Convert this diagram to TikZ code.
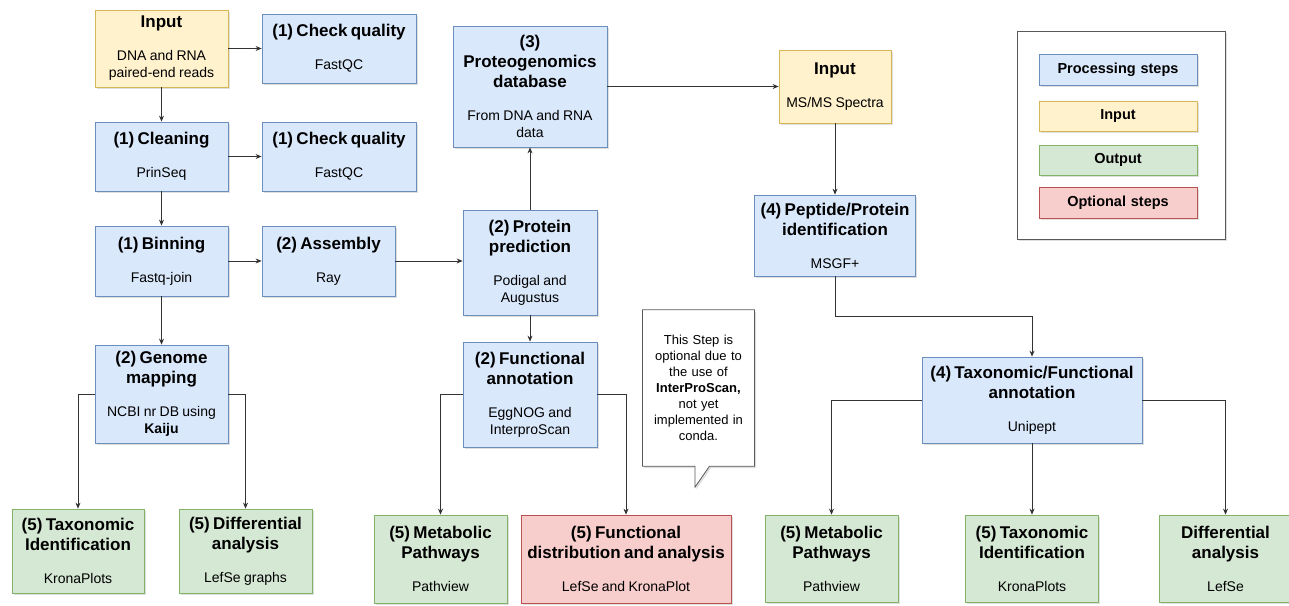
\documentclass[tikz,border=0pt]{standalone}
\usepackage{fontspec}
\setmainfont{Liberation Sans}
\usetikzlibrary{arrows.meta, shadows, backgrounds}

\definecolor{stepfill}{HTML}{DAE8FC}
\definecolor{stepline}{HTML}{6C8EBF}
\definecolor{infill}{HTML}{FFF2CC}
\definecolor{inline}{HTML}{D6B656}
\definecolor{outfill}{HTML}{D5E8D4}
\definecolor{outline}{HTML}{82B366}
\definecolor{optfill}{HTML}{F8CECC}
\definecolor{optline}{HTML}{B85450}

\newcommand{\ttlf}{\fontsize{17}{20}\selectfont\bfseries}
\newcommand{\subf}{\fontsize{14}{17}\selectfont\mdseries}
\newcommand{\stp}[2]{\ttlf #1\par\vspace{16pt}\subf #2\par}

\begin{document}
\begin{tikzpicture}[x=1pt, y=-1pt, align=center,
		basebox/.style={rectangle, inner sep=0pt, line width=0.8pt,
			drop shadow={shadow xshift=1.5pt, shadow yshift=-2pt, opacity=0.25}},
		sz/.style 2 args={text width=#1, minimum width=#1, minimum height=#2},
		stepbox/.style={basebox, draw=stepline, fill=stepfill},
		inbox/.style={basebox, draw=inline, fill=infill},
		outbox/.style={basebox, draw=outline, fill=outfill},
		optbox/.style={basebox, draw=optline, fill=optfill},
		legtext/.style={font=\fontsize{14.5}{17}\selectfont\bfseries},
		conn/.style={draw=black!80, line width=0.7pt, -{Stealth[length=6pt, width=5pt]}}
	]
		\useasboundingbox (0,0) rectangle (1289,605);
		
		% metagenomics column
		\node[inbox, sz={133pt}{77pt}] (in1) at (161.5,48.5) {\stp{Input}{DNA and RNA\\paired-end reads}};
		\node[stepbox, sz={154pt}{69pt}] (cq1) at (339,48.5) {\stp{(1) Check quality}{FastQC}};
		\node[stepbox, sz={133pt}{69pt}] (clean) at (161.5,156.5) {\stp{(1) Cleaning}{PrinSeq}};
		\node[stepbox, sz={154pt}{69pt}] (cq2) at (339,156.5) {\stp{(1) Check quality}{FastQC}};
		\node[stepbox, sz={133pt}{70pt}] (bin) at (161.5,261) {\stp{(1) Binning}{Fastq-join}};
		\node[stepbox, sz={133pt}{70pt}] (asm) at (328.5,261) {\stp{(2) Assembly}{Ray}};
		\node[stepbox, sz={133pt}{98pt}] (gmap) at (161.5,394) {\stp{(2) Genome\\mapping}{NCBI nr DB using\\\textbf{Kaiju}}};
		\node[outbox, sz={132pt}{84pt}] (taxL) at (78,551) {\stp{(5) Taxonomic\\Identification}{KronaPlots}};
		\node[outbox, sz={133pt}{84pt}] (diffL) at (245.5,551) {\stp{(5) Differential\\analysis}{LefSe graphs}};
		
		% proteogenomics column
		\node[stepbox, sz={154pt}{121pt}] (pdb) at (530,86.5) {\stp{(3)\\Proteogenomics\\database}{From DNA and RNA\\data}};
		\node[stepbox, sz={134pt}{105pt}] (pred) at (530,262.5) {\stp{(2) Protein\\prediction}{Podigal and\\Augustus}};
		\node[stepbox, sz={134pt}{105pt}] (fann) at (530,394.5) {\stp{(2) Functional\\annotation}{EggNOG and\\InterproScan}};
		\node[outbox, sz={133pt}{88pt}] (metL) at (440.5,559) {\stp{(5) Metabolic\\Pathways}{Pathview}};
		\node[optbox, sz={210pt}{88pt}] (fdist) at (626,559) {\stp{(5) Functional\\distribution and analysis}{LefSe and KronaPlot}};
		\node[sz={105pt}{156pt}, font=\fontsize{13}{16}\selectfont] (note) at (698.5,388)
			{This Step is\\optional due to\\the use of\\\textbf{InterProScan,}\\not yet\\implemented in\\conda.};
		\begin{scope}[on background layer]
			\draw[basebox, draw=black!65, fill=white] (note.north west) -- (note.north east) -- (note.south east)
				-- ([xshift=67pt]note.south west) -- ([xshift=52.5pt, yshift=-21pt]note.south west)
				-- ([xshift=52.5pt]note.south west) -- (note.south west) -- cycle;
		\end{scope}
		
		% metaproteomics column
		\node[inbox, sz={112pt}{73pt}] (in2) at (835,86.5) {\stp{Input}{MS/MS Spectra}};
		\node[stepbox, sz={161pt}{81pt}] (pep) at (835,235.5) {\stp{(4) Peptide/Protein\\identification}{MSGF+}};
		\node[stepbox, sz={220pt}{86pt}] (tfann) at (1032,400) {\stp{(4) Taxonomic/Functional\\annotation}{Unipept}};
		\node[outbox, sz={133pt}{87pt}] (metR) at (831.5,558.5) {\stp{(5) Metabolic\\Pathways}{Pathview}};
		\node[outbox, sz={133pt}{87pt}] (taxR) at (1032,558.5) {\stp{(5) Taxonomic\\Identification}{KronaPlots}};
		\node[outbox, sz={133pt}{87pt}] (diffR) at (1225.5,558.5) {\stp{Differential\\analysis}{LefSe}};
		
		% legend
		\node[basebox, draw=black!65, fill=white, sz={208pt}{208pt}] (legend) at (1121,135) {};
		\node[stepbox, sz={158pt}{31pt}, legtext] (leg1) at (1118,69.5) {Processing steps};
		\node[inbox, sz={158pt}{30pt}, legtext] (leg2) at (1118,116) {Input};
		\node[outbox, sz={158pt}{30pt}, legtext] (leg3) at (1118,160) {Output};
		\node[optbox, sz={158pt}{31pt}, legtext] (leg4) at (1118,202.5) {Optional steps};
		
		% connectors
		\draw[conn] (in1) -- (cq1);
		\draw[conn] (in1) -- (clean);
		\draw[conn] (clean) -- (cq2);
		\draw[conn] (clean) -- (bin);
		\draw[conn] (bin) -- (asm);
		\draw[conn] (bin) -- (gmap);
		\draw[conn] (asm.east) -- (asm.east -| pred.west);
		\draw[conn] (pred) -- (pdb);
		\draw[conn] (pred) -- (fann);
		\draw[conn] (pdb) -- (in2);
		\draw[conn] (in2) -- (pep);
		\draw[conn] (pep.south) -- ++(0,40) -| (tfann.north);
		\draw[conn] (gmap.west) -| (taxL.north);
		\draw[conn] (gmap.east) -| (diffL.north);
		\draw[conn] (fann.west) -| (metL.north);
		\draw[conn] (fann.east) -| (fdist.north);
		\draw[conn] (tfann.west) -| (metR.north);
		\draw[conn] (tfann) -- (taxR);
		\draw[conn] (tfann.east) -| (diffR.north);
	\end{tikzpicture}
\end{document}
